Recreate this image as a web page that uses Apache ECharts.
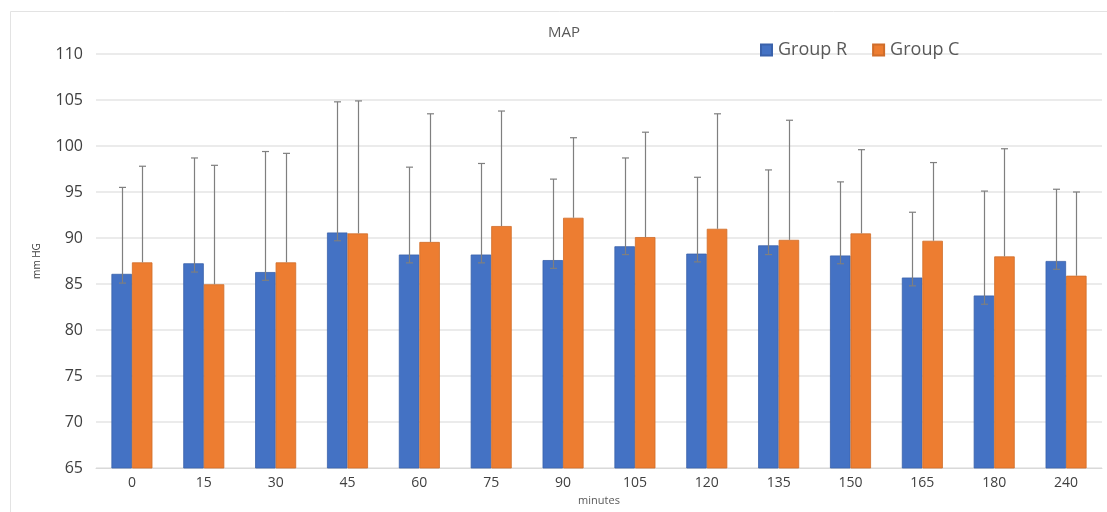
<!DOCTYPE html>
<html>
<head>
<meta charset="utf-8">
<script src="https://cdn.jsdelivr.net/npm/echarts@6/dist/echarts.min.js"></script>
<style>
html,body{margin:0;padding:0;background:#fff;}
#main{width:1107px;height:512px;}
</style>
</head>
<body>
<div id="main"></div>
<script>
var categories = ['0','15','30','45','60','75','90','105','120','135','150','165','180','240'];
var groupR = [86.1, 87.25, 86.3, 90.6, 88.2, 88.2, 87.6, 89.1, 88.3, 89.2, 88.1, 85.7, 83.75, 87.5];
var groupC = [87.35, 84.97, 87.35, 90.5, 89.57, 91.3, 92.2, 90.1, 91.0, 89.8, 90.5, 89.7, 88.0, 85.9];
var groupRUpper = [95.5, 98.7, 99.4, 104.8, 97.7, 98.1, 96.4, 98.7, 96.6, 97.4, 96.1, 92.8, 95.1, 95.3];
var groupRLower = [85.1, 86.3, 85.4, 89.7, 87.3, 87.3, 86.7, 88.2, 87.4, 88.2, 87.2, 84.8, 82.8, 86.6];
var groupCUpper = [97.8, 97.9, 99.2, 104.9, 103.5, 103.8, 100.9, 101.5, 103.5, 102.8, 99.6, 98.2, 99.7, 95.0];
var yTicks = [65, 70, 75, 80, 85, 90, 95, 100, 105, 110];

var BAR_W = 20.5;

function errSeries(name, values, upper, lower, offset) {
  var data = categories.map(function (c, i) {
    return [i, values[i], upper[i], lower ? lower[i] : values[i]];
  });
  return {
    type: 'custom',
    name: name + ' err',
    z: 5,
    silent: true,
    data: data,
    renderItem: function (params, api) {
      var x = api.value(0);
      var v = api.value(1);
      var loV = api.value(3);
      var lo = api.coord([x, loV]);
      var hi = api.coord([x, api.value(2)]);
      var cx = Math.round(lo[0] + offset) + 0.5;
      var cap = 3.5;
      var style = { stroke: '#7f7f7f', lineWidth: 1.2 };
      var children = [
        { type: 'line', shape: { x1: cx, y1: hi[1], x2: cx, y2: lo[1] }, style: style },
        { type: 'line', shape: { x1: cx - cap, y1: hi[1], x2: cx + cap, y2: hi[1] }, style: style }
      ];
      if (loV < v) {
        children.push({ type: 'line', shape: { x1: cx - cap, y1: lo[1], x2: cx + cap, y2: lo[1] }, style: style });
      }
      return { type: 'group', children: children };
    }
  };
}

var chart = echarts.init(document.getElementById('main'), null, { renderer: 'canvas' });
chart.setOption({
  backgroundColor: '#ffffff',
  animation: false,
  title: {
    text: 'MAP',
    left: 543, top: 20,
    textStyle: { fontFamily: 'Open Sans', fontSize: 15, fontWeight: 'normal', color: '#595959' }
  },
  legend: {
    data: ['Group R', 'Group C'],
    left: 755, top: 36,
    itemWidth: 11, itemHeight: 11, itemGap: 25,
    icon: 'rect',
    textStyle: { fontFamily: 'Open Sans', fontSize: 18, color: '#595959', padding: [0, 0, 0, 1] }
  },
  graphic: [
    { type: 'rect', shape: { x: 10.5, y: 11.5, width: 1200, height: 600 }, style: { fill: 'none', stroke: '#e3e3e3', lineWidth: 1 }, z: -1 }
  ],
  grid: { left: 96, right: 5, top: 54, bottom: 44, containLabel: false },
  xAxis: {
    type: 'category',
    data: categories,
    name: 'minutes',
    nameLocation: 'middle',
    nameGap: 26,
    nameTextStyle: { fontFamily: 'Open Sans', fontSize: 11, color: '#595959' },
    axisLine: { show: true, lineStyle: { color: '#d9d9d9' } },
    axisTick: { show: false },
    axisLabel: { fontFamily: 'Open Sans', fontSize: 14, color: '#404040', margin: 8 }
  },
  yAxis: {
    type: 'value',
    min: 65, max: 110, interval: 5,
    name: 'mm HG',
    nameLocation: 'middle',
    nameGap: 54,
    nameRotate: 90,
    nameTextStyle: { fontFamily: 'Open Sans', fontSize: 10, color: '#404040' },
    axisLine: { show: false },
    axisTick: { show: false },
    axisLabel: {
      fontFamily: 'Open Sans', fontSize: 16, color: '#404040', margin: 13,
      formatter: function (v) { return yTicks.indexOf(v) >= 0 ? String(v) : ''; }
    },
    splitLine: { lineStyle: { color: '#e4e4e4', width: 1.5 } }
  },
  series: [
    {
      name: 'Group R', type: 'bar', data: groupR, barWidth: BAR_W, barGap: '0%',
      itemStyle: { color: '#4472C4', borderColor: '#3a62ab', borderWidth: 0.8 }, z: 2
    },
    {
      name: 'Group C', type: 'bar', data: groupC, barWidth: BAR_W, barGap: '0%',
      itemStyle: { color: '#ED7D31', borderColor: '#d06d2a', borderWidth: 0.8 }, z: 2
    },
    errSeries('Group R', groupR, groupRUpper, groupRLower, -BAR_W / 2),
    errSeries('Group C', groupC, groupCUpper, null, BAR_W / 2)
  ]
});
</script>
</body>
</html>
